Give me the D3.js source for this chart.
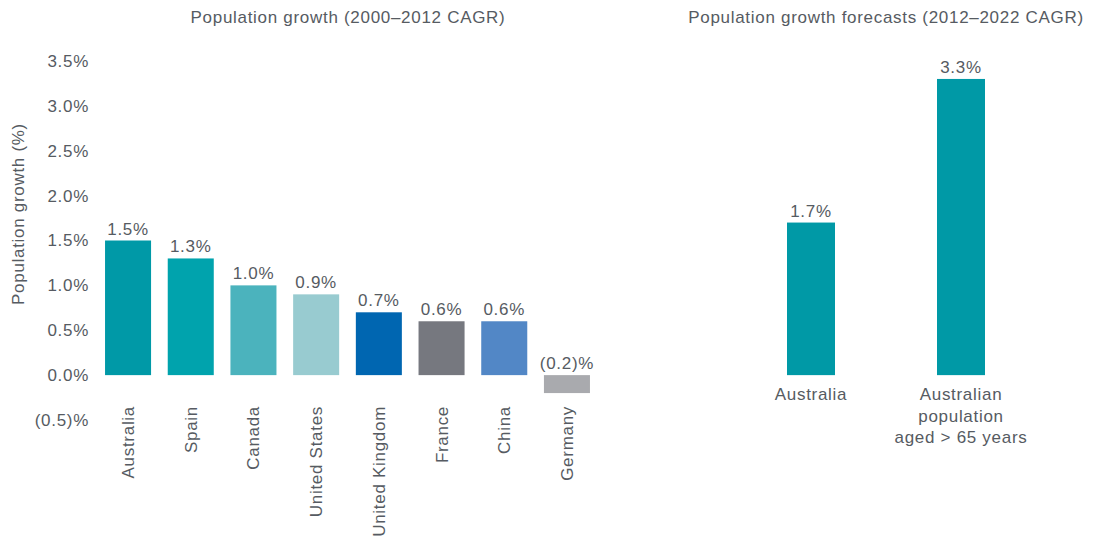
<!DOCTYPE html>
<html>
<head>
<meta charset="utf-8">
<script src="https://cdn.jsdelivr.net/npm/d3@7"></script>
<style>
  html, body { margin: 0; padding: 0; background: #fff; }
  svg text { font-family: "Liberation Sans", Arial, sans-serif; fill: #565b62; letter-spacing: 0.7px; }
</style>
</head>
<body>
<svg id="chart" width="1093" height="545"></svg>
<script>
// Historical growth, 2000–2012 CAGR (%)
const countries = ["Australia", "Spain", "Canada", "United States", "United Kingdom", "France", "China", "Germany"];
const growth = [1.5, 1.3, 1.0, 0.9, 0.7, 0.6, 0.6, -0.2];
const countryColors = ["#0099a7", "#00a3ad", "#4bb3bd", "#98cbd0", "#0066b1", "#76787f", "#5287c6", "#a9aaae"];

// Forecast growth, 2012–2022 CAGR (%)
const forecastGroups = ["Australia", "Australian population aged > 65 years"];
const forecastLines = [["Australia"], ["Australian", "population", "aged > 65 years"]];
const forecast = [1.7, 3.3];
const forecastColor = "#0099a6";

// Axis ticks
const yTicks = [-0.5, 0, 0.5, 1.0, 1.5, 2.0, 2.5, 3.0, 3.5];

const titleLeft = "Population growth (2000\u20132012 CAGR)";
const titleRight = "Population growth forecasts (2012\u20132022 CAGR)";
const yTitle = "Population growth (%)";

const fmt = v => {
  const s = Math.abs(v).toFixed(1);
  return v < 0 ? "(" + s + ")%" : s + "%";
};

const svg = d3.select("#chart");
const FS = 17;

// Shared vertical scale
const y = d3.scaleLinear().domain([-0.5, 3.5]).range([420, 61]);

// Left panel
const xL = d3.scaleBand().domain(countries).range([96.7, 598.3]).paddingInner(0.266).paddingOuter(0.133);

const yAxis = d3.axisLeft(y).tickValues(yTicks).tickFormat(fmt).tickSize(0).tickPadding(0);
const gy = svg.append("g").attr("transform", "translate(89,0)").call(yAxis);
gy.select(".domain").remove();
gy.selectAll("text").attr("font-size", FS).style("font-family", null).attr("fill", null);

svg.append("text")
  .attr("transform", `translate(24,214) rotate(-90)`)
  .attr("text-anchor", "middle")
  .attr("font-size", FS)
  .text(yTitle);

svg.append("text")
  .attr("x", 348).attr("y", 23)
  .attr("text-anchor", "middle")
  .attr("font-size", FS)
  .text(titleLeft);

const left = countries.map((c, i) => ({ c, v: growth[i], col: countryColors[i] }));

svg.append("g").selectAll("rect").data(left).join("rect")
  .attr("x", d => xL(d.c))
  .attr("width", xL.bandwidth())
  .attr("y", d => y(Math.max(0, d.v)))
  .attr("height", d => Math.abs(y(d.v) - y(0)))
  .attr("fill", d => d.col);

svg.append("g").selectAll("text").data(left).join("text")
  .attr("x", d => xL(d.c) + xL.bandwidth() / 2)
  .attr("y", d => y(Math.max(0, d.v)) - 6)
  .attr("text-anchor", "middle")
  .attr("font-size", FS)
  .text(d => fmt(d.v));

svg.append("g").selectAll("text").data(left).join("text")
  .attr("transform", d => `translate(${xL(d.c) + xL.bandwidth() / 2},406) rotate(-90)`)
  .attr("text-anchor", "end")
  .attr("dy", "0.35em")
  .attr("font-size", FS)
  .text(d => d.c);

// Right panel
const xR = d3.scaleBand().domain(forecastGroups).range([736, 1036]).paddingInner(0.68).paddingOuter(0.34);
const right = forecastGroups.map((g, i) => ({ g, v: forecast[i], lines: forecastLines[i] }));

svg.append("text")
  .attr("x", 886).attr("y", 23)
  .attr("text-anchor", "middle")
  .attr("font-size", FS)
  .text(titleRight);

svg.append("g").selectAll("rect").data(right).join("rect")
  .attr("x", d => xR(d.g))
  .attr("width", xR.bandwidth())
  .attr("y", d => y(d.v))
  .attr("height", d => y(0) - y(d.v))
  .attr("fill", forecastColor);

svg.append("g").selectAll("text").data(right).join("text")
  .attr("x", d => xR(d.g) + xR.bandwidth() / 2)
  .attr("y", d => y(d.v) - 6)
  .attr("text-anchor", "middle")
  .attr("font-size", FS)
  .text(d => fmt(d.v));

const cat = svg.append("g").selectAll("text").data(right).join("text")
  .attr("text-anchor", "middle")
  .attr("font-size", FS);
cat.selectAll("tspan").data(d => d.lines.map(l => ({ l, x: xR(d.g) + xR.bandwidth() / 2 }))).join("tspan")
  .attr("x", d => d.x)
  .attr("y", (d, i) => 400 + i * 21.5)
  .text(d => d.l);
</script>
</body>
</html>
